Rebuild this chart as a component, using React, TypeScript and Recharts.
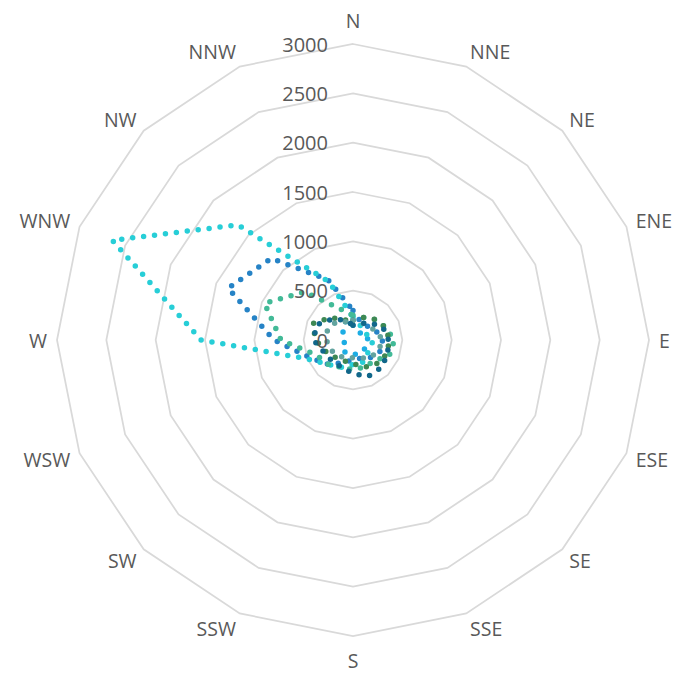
import React from 'react';
import { RadarChart, Radar, PolarGrid, PolarAngleAxis, PolarRadiusAxis } from 'recharts';

const directions = ['N', 'NNE', 'NE', 'ENE', 'E', 'ESE', 'SE', 'SSE', 'S', 'SSW', 'SW', 'WSW', 'W', 'WNW', 'NW', 'NNW'];

// values, one list per series
const series1 = [150, 100, 100, 150, 150, 150, 150, 150, 150, 150, 150, 100, 80, 100, 150, 200];
const series2 = [300, 200, 200, 250, 300, 300, 250, 200, 200, 250, 350, 470, 800, 1370, 1170, 660];
const series3 = [230, 170, 150, 150, 200, 200, 200, 250, 250, 300, 350, 500, 1540, 2640, 1650, 640];
const series4 = [250, 250, 300, 350, 420, 400, 300, 300, 300, 300, 350, 400, 730, 970, 690, 340];
const series5 = [200, 250, 300, 350, 370, 370, 340, 300, 240, 230, 250, 300, 380, 440, 320, 220];
const series6 = [200, 200, 200, 250, 300, 280, 250, 200, 180, 200, 220, 250, 270, 280, 250, 200];
const series7 = [150, 180, 250, 330, 360, 380, 400, 400, 340, 300, 300, 320, 400, 400, 300, 220];

const seriesList = [
  { key: 's1', values: series1, color: '#1CADE4' },
  { key: 's2', values: series2, color: '#2683C6' },
  { key: 's3', values: series3, color: '#27CED7' },
  { key: 's4', values: series4, color: '#42BA97' },
  { key: 's5', values: series5, color: '#3E8853' },
  { key: 's6', values: series6, color: '#62A39F' },
  { key: 's7', values: series7, color: '#11678A' },
];

const data = directions.map((dir, i) => {
  const row: Record<string, string | number> = { dir };
  seriesList.forEach((s) => {
    row[s.key] = s.values[i];
  });
  return row;
});

const CX = 353;
const CY = 340;
const R = 296;
const FONT = '"Open Sans", "Noto Sans", sans-serif';

const AngleTick = (props: any) => {
  const { payload } = props;
  const idx = directions.indexOf(payload.value);
  const ang = ((90 - idx * 22.5) * Math.PI) / 180;
  const dx = Math.cos(ang);
  const dy = -Math.sin(ang);
  const x = CX + dx * (R + 10);
  let y = CY + dy * (R + 10);
  let anchor = 'middle';
  if (dx > 0.01) anchor = 'start';
  if (dx < -0.01) anchor = 'end';
  y += dy * (Math.abs(dx) < 0.01 ? 14 : 6);
  return (
    <text x={x} y={y} textAnchor={anchor} dominantBaseline="central" fill="#595959" fontSize={19.5} fontFamily={FONT}>
      {payload.value}
    </text>
  );
};

const RadiusTick = (props: any) => {
  const { x, y, payload } = props;
  return (
    <text x={x - 25} y={y} textAnchor="end" dominantBaseline="central" fill="#595959" fontSize={20} fontFamily={FONT}>
      {payload.value}
    </text>
  );
};

export default function App() {
  return (
    <div style={{ position: 'fixed', left: 0, top: 0, width: 673, height: 673, background: '#fff' }}>
      <RadarChart
        width={673}
        height={673}
        data={data}
        cx={CX}
        cy={CY}
        outerRadius={R}
        margin={{ top: 0, right: 0, bottom: 0, left: 0 }}
        style={{ overflow: 'visible' }}
      >
        <PolarGrid gridType="polygon" radialLines={false} stroke="#D9D9D9" strokeWidth={1.75} />
        <PolarAngleAxis dataKey="dir" axisLine={false} tickLine={false} tick={<AngleTick />} />
        <PolarRadiusAxis angle={90} domain={[0, 3000]} tickCount={7} axisLine={false} tickLine={false} tick={<RadiusTick />} />
        {seriesList.map((s) => (
          <Radar
            key={s.key}
            dataKey={s.key}
            stroke={s.color}
            strokeWidth={5.5}
            strokeDasharray="0 11"
            strokeLinecap="round"
            fill="none"
            fillOpacity={0}
            dot={false}
            isAnimationActive={false}
          />
        ))}
      </RadarChart>
    </div>
  );
}
